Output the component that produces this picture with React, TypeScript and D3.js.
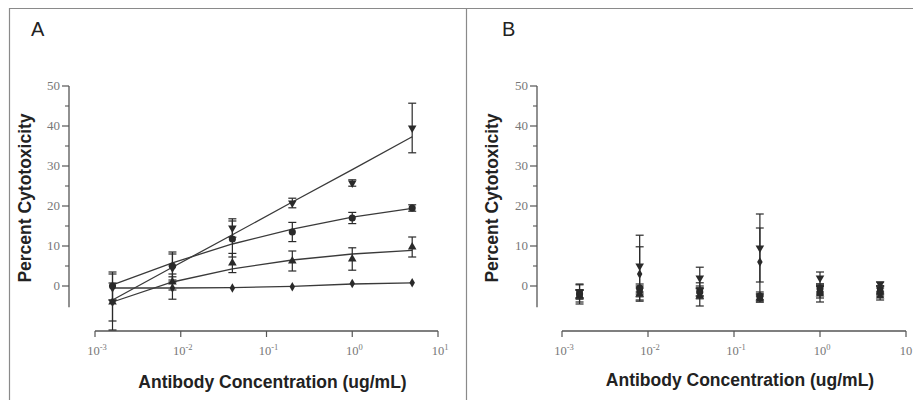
import React, { useRef, useEffect } from 'react';
import * as d3 from 'd3';

// antibody concentrations (ug/mL)
const concentrations = [0.0016, 0.008, 0.04, 0.2, 1, 5];
const xTickValues = [1e-3, 1e-2, 1e-1, 1, 10];
const xTickExponents = ['-3', '-2', '-1', '0', '1'];
const yTickValues = [0, 10, 20, 30, 40, 50];
const yMinorValues = [5, 15, 25, 35, 45];

// Panel A
const aDownMean = [-4, 4.5, 14.5, 20.75, 25.75, 39.5];
const aDownErr = [4.75, 3.5, 2.3, 1.2, 0.8, 6.2];
const aDownFit = [-3.5, 4.7, 12.8, 21, 29.1, 37.3];
const aCircleMean = [0, 5, 11.75, 13.5, 17, 19.5];
const aCircleErr = [3.5, 3.5, 4.5, 2.4, 1.4, 0.8];
const aCircleFit = [0.3, 5.8, 10.5, 14.2, 17.2, 19.4];
const aUpMean = [-4, 1, 5.75, 6.25, 6.75, 9.75];
const aUpErr = [7, 2, 2.4, 2.5, 2.8, 2.5];
const aUpFit = [-4, 1, 4.3, 6.5, 8, 8.9];
const aDiamondMean = [-0.5, -0.5, -0.5, -0.2, 0.6, 0.8];
const aDiamondErr = [0, 2.8, 0, 0, 0, 0];
const aDiamondFit = [-0.5, -0.5, -0.4, -0.1, 0.5, 0.8];

// Panel B
const bDownMean = [-1.5, 5, 2, 9.5, 2, 0.5];
const bDownErr = [1.8, 7.7, 2.7, 8.5, 1.5, 0.5];
const bDiamondMean = [-2, 3, -1.5, 6, -1, -1];
const bDiamondErr = [1, 6.8, 1, 8.5, 1, 1];
const bCircleMean = [-2, -0.5, -1.5, -2.5, -0.5, -1.5];
const bCircleErr = [1, 1, 1, 1, 1, 1];
const bUpMean = [-2.5, -2, -2.5, -3, -2, -2.5];
const bUpErr = [1.5, 1.5, 2.5, 1, 2, 1];
const bSquareMean = [-2, -1, -1.2, -3, -1.5, -1];
const bSquareErr = [2.5, 1, 2, 1, 1.5, 1];

type Series = { shape: string; mean: number[]; err: number[]; fit?: number[] };

const panelA: Series[] = [
  { shape: 'diamond', mean: aDiamondMean, err: aDiamondErr, fit: aDiamondFit },
  { shape: 'up', mean: aUpMean, err: aUpErr, fit: aUpFit },
  { shape: 'circle', mean: aCircleMean, err: aCircleErr, fit: aCircleFit },
  { shape: 'down', mean: aDownMean, err: aDownErr, fit: aDownFit },
];

const panelB: Series[] = [
  { shape: 'up', mean: bUpMean, err: bUpErr },
  { shape: 'square', mean: bSquareMean, err: bSquareErr },
  { shape: 'circle', mean: bCircleMean, err: bCircleErr },
  { shape: 'diamond', mean: bDiamondMean, err: bDiamondErr },
  { shape: 'down', mean: bDownMean, err: bDownErr },
];

const INK = '#2a2a2a';
const AXIS = '#555';
const LABEL = '#777';

function symbolPath(shape: string) {
  if (shape === 'circle') return d3.symbol(d3.symbolCircle, 40)();
  if (shape === 'square') return d3.symbol(d3.symbolSquare, 40)();
  if (shape === 'diamond') return d3.symbol(d3.symbolDiamond, 26)();
  return d3.symbol(d3.symbolTriangle, 32)();
}

function drawPanel(
  svg: d3.Selection<SVGSVGElement, unknown, null, undefined>,
  opts: {
    axisX: number;
    xRange: [number, number];
    letter: string;
    letterX: number;
    yTitleX: number;
    xTitleY: number;
    series: Series[];
  }
) {
  const x = d3.scaleLog().domain([1e-3, 10]).range(opts.xRange);
  const y = d3.scaleLinear().domain([0, 50]).range([286, 86]);
  const axisY = 331;
  const g = svg.append('g');

  // panel letter
  g.append('text')
    .attr('x', opts.letterX)
    .attr('y', 36)
    .attr('font-family', 'Liberation Sans, Arial, sans-serif')
    .attr('font-size', 20)
    .attr('fill', '#222')
    .text(opts.letter);

  // y axis
  g.append('line')
    .attr('x1', opts.axisX).attr('x2', opts.axisX)
    .attr('y1', y(50)).attr('y2', y(-5.3))
    .attr('stroke', AXIS).attr('stroke-width', 1.3);
  g.selectAll('.ymaj')
    .data(yTickValues)
    .join('line')
    .attr('x1', opts.axisX - 7).attr('x2', opts.axisX)
    .attr('y1', (d) => y(d)).attr('y2', (d) => y(d))
    .attr('stroke', AXIS).attr('stroke-width', 1.2);
  g.selectAll('.ymin')
    .data(yMinorValues)
    .join('line')
    .attr('x1', opts.axisX - 4).attr('x2', opts.axisX)
    .attr('y1', (d) => y(d)).attr('y2', (d) => y(d))
    .attr('stroke', AXIS).attr('stroke-width', 1.1);
  g.selectAll('.ylab')
    .data(yTickValues)
    .join('text')
    .attr('x', opts.axisX - 9)
    .attr('y', (d) => y(d) + 4)
    .attr('text-anchor', 'end')
    .attr('font-family', 'Liberation Serif, Times New Roman, serif')
    .attr('font-size', 13)
    .attr('fill', LABEL)
    .text((d) => d);

  // x axis
  g.append('line')
    .attr('x1', opts.xRange[0]).attr('x2', opts.xRange[1])
    .attr('y1', axisY).attr('y2', axisY)
    .attr('stroke', AXIS).attr('stroke-width', 1.3);
  g.selectAll('.xmaj')
    .data(xTickValues)
    .join('line')
    .attr('x1', (d) => x(d)).attr('x2', (d) => x(d))
    .attr('y1', axisY).attr('y2', axisY + 6)
    .attr('stroke', AXIS).attr('stroke-width', 1.2);
  const xl = g.selectAll('.xlab')
    .data(xTickValues)
    .join('text')
    .attr('x', (d) => x(d) + 2)
    .attr('y', 355)
    .attr('text-anchor', 'middle')
    .attr('font-family', 'Liberation Serif, Times New Roman, serif')
    .attr('font-size', 12.5)
    .attr('fill', LABEL);
  xl.append('tspan').text('10');
  xl.append('tspan')
    .attr('dy', -5)
    .attr('font-size', 8.5)
    .text((d, i) => xTickExponents[i]);

  // axis titles
  const cx = (opts.xRange[0] + opts.xRange[1]) / 2;
  g.append('text')
    .attr('x', cx + 6)
    .attr('y', opts.xTitleY)
    .attr('text-anchor', 'middle')
    .attr('font-family', 'Liberation Sans, Arial, sans-serif')
    .attr('font-weight', 'bold')
    .attr('font-size', 17.5)
    .attr('fill', '#222')
    .text('Antibody Concentration (ug/mL)');
  g.append('text')
    .attr('transform', `translate(${opts.yTitleX},198) rotate(-90)`)
    .attr('text-anchor', 'middle')
    .attr('font-family', 'Liberation Sans, Arial, sans-serif')
    .attr('font-weight', 'bold')
    .attr('font-size', 17.5)
    .attr('fill', '#222')
    .text('Percent Cytotoxicity');

  // fit lines
  const line = d3
    .line<number>()
    .x((d, i) => x(concentrations[i]))
    .y((d) => y(d));
  opts.series.forEach((s) => {
    if (!s.fit) return;
    g.append('path')
      .attr('d', line(s.fit))
      .attr('fill', 'none')
      .attr('stroke', '#3a3a3a')
      .attr('stroke-width', 1.3);
  });

  // error bars and markers
  opts.series.forEach((s) => {
    const pts = concentrations.map((c, i) => ({ c, m: s.mean[i], e: s.err[i] }));
    const eb = g.append('g').attr('stroke', INK).attr('stroke-width', 1.2);
    pts.filter((p) => p.e > 0).forEach((p) => {
      const px = x(p.c);
      eb.append('line').attr('x1', px).attr('x2', px).attr('y1', y(p.m + p.e)).attr('y2', y(p.m - p.e));
      eb.append('line').attr('x1', px - 4).attr('x2', px + 4).attr('y1', y(p.m + p.e)).attr('y2', y(p.m + p.e));
      eb.append('line').attr('x1', px - 4).attr('x2', px + 4).attr('y1', y(p.m - p.e)).attr('y2', y(p.m - p.e));
    });
    g.selectAll(null)
      .data(pts)
      .join('path')
      .attr('d', symbolPath(s.shape))
      .attr('transform', (p) =>
        `translate(${x(p.c)},${y(p.m)})` + (s.shape === 'down' ? ' rotate(180)' : '')
      )
      .attr('fill', INK);
  });
}

export default function App() {
  const svgRef = useRef<SVGSVGElement>(null);

  useEffect(() => {
    if (!svgRef.current) return;
    const svg = d3.select(svgRef.current);
    svg.selectAll('*').remove();

    svg.append('rect').attr('width', 913).attr('height', 400).attr('fill', '#fff');

    // frame
    const frame = svg.append('g').attr('stroke', '#8a8a8a').attr('stroke-width', 1.2);
    frame.append('line').attr('x1', 9).attr('x2', 913).attr('y1', 8.5).attr('y2', 8.5);
    frame.append('line').attr('x1', 9.5).attr('x2', 9.5).attr('y1', 8).attr('y2', 400);
    frame.append('line').attr('x1', 466.5).attr('x2', 466.5).attr('y1', 8).attr('y2', 400);

    drawPanel(svg, {
      axisX: 69,
      xRange: [95, 438],
      letter: 'A',
      letterX: 31,
      yTitleX: 31,
      xTitleY: 388,
      series: panelA,
    });
    drawPanel(svg, {
      axisX: 537,
      xRange: [562, 906],
      letter: 'B',
      letterX: 502,
      yTitleX: 498,
      xTitleY: 386,
      series: panelB,
    });
  }, []);

  return (
    <div style={{ position: 'absolute', left: 0, top: 0 }}>
      <svg ref={svgRef} width={913} height={400} />
    </div>
  );
}
